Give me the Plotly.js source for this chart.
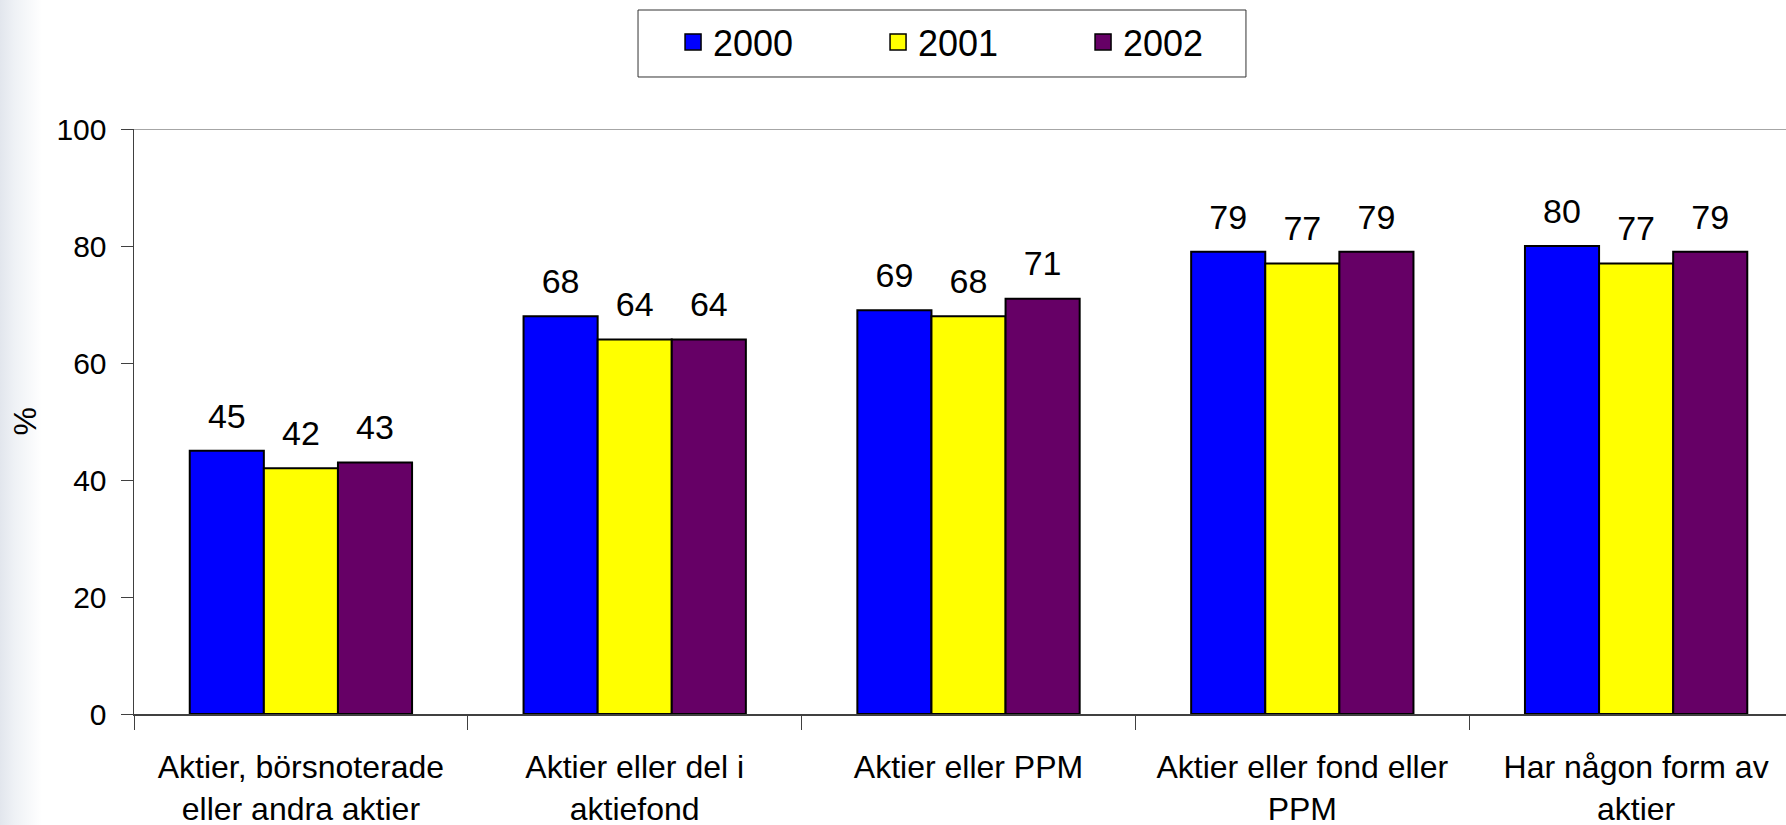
<!DOCTYPE html>
<html><head><meta charset="utf-8">
<script src="https://cdn.plot.ly/plotly-3.0.1.min.js"></script>
<style>
html,body{margin:0;padding:0;background:linear-gradient(to right,#e2e6ed 0px,#eef1f5 14px,#ffffff 42px);}
#chart{width:1786px;height:825px;}
</style>
</head><body><div id="chart"></div>
<script>
const categories = ["Aktier, börsnoterade<br>eller andra aktier", "Aktier eller del i<br>aktiefond", "Aktier eller PPM", "Aktier eller fond eller<br>PPM", "Har någon form av<br>aktier"];
const years = ["2000", "2001", "2002"];
const values2000 = [45, 68, 69, 79, 80];
const values2001 = [42, 64, 68, 77, 77];
const values2002 = [43, 64, 71, 79, 79];
const yTicks = [0, 20, 40, 60, 80, 100];
const yTitle = "%";

const colors = ["#0000FF", "#FFFF00", "#660066"];
const series = [values2000, values2001, values2002];
const font = "'Liberation Sans', Arial, sans-serif";

const traces = [];
series.forEach((vals, i) => {
  traces.push({
    type: 'bar', name: years[i], x: categories, y: vals,
    marker: {color: colors[i], line: {color: '#000000', width: 2}},
    showlegend: false, hoverinfo: 'skip'
  });
});
series.forEach((vals, i) => {
  traces.push({
    type: 'scatter', mode: 'markers+text', x: categories, y: vals,
    offsetgroup: 'g' + i, alignmentgroup: 'labels',
    text: vals.map(String), textposition: 'top center',
    textfont: {family: font, size: 34, color: '#000'},
    marker: {size: 22, color: 'rgba(0,0,0,0)'},
    showlegend: false, cliponaxis: false, hoverinfo: 'skip'
  });
});
// legend-only entries (no data points)
years.forEach((yr, i) => {
  traces.push({
    type: 'scatter', mode: 'markers', name: yr, x: [null], y: [null],
    offsetgroup: 'g' + i, alignmentgroup: 'labels',
    marker: {symbol: 'square', size: 16, color: colors[i], line: {color: '#000', width: 1.5}},
    showlegend: true, hoverinfo: 'skip'
  });
});

const layout = {
  width: 1786, height: 825,
  margin: {l: 134, r: 0, t: 129, b: 111},
  paper_bgcolor: 'rgba(0,0,0,0)', plot_bgcolor: 'rgba(0,0,0,0)',
  barmode: 'group', bargap: 0.334, bargroupgap: 0,
  scattermode: 'group', scattergap: 0.334,
  showlegend: true,
  legend: {
    orientation: 'h', x: 0.3263, xanchor: 'left', y: 1.2, yanchor: 'top',
    borderwidth: 0, bgcolor: 'rgba(0,0,0,0)',
    font: {family: font, size: 36, color: '#000'},
    entrywidth: 160, traceorder: 'normal', itemsizing: 'trace'
  },
  xaxis: {
    type: 'category', range: [-0.5, 4.449], tickson: 'boundaries',
    ticks: 'outside', ticklen: 14, tickcolor: '#404040', tickwidth: 1,
    showline: true, linecolor: '#404040', linewidth: 1.5,
    showgrid: false, zeroline: false,
    tickfont: {family: font, size: 32, color: '#000'},
    ticklabelstandoff: 24
  },
  yaxis: {
    range: [0, 100], tickvals: yTicks, ticktext: yTicks.map(String),
    ticks: 'outside', ticklen: 12, tickcolor: '#404040', tickwidth: 1,
    showline: true, linecolor: '#404040', linewidth: 1.5,
    showgrid: false, zeroline: false,
    tickfont: {family: font, size: 30, color: '#000'},
    ticklabelstandoff: 8
  },
  annotations: [{
    text: yTitle, textangle: -90, showarrow: false,
    xref: 'paper', yref: 'paper', x: -0.066, y: 0.5, xanchor: 'center', yanchor: 'middle',
    font: {family: font, size: 32, color: '#000'}
  }],
  shapes: [{
    type: 'line', xref: 'paper', x0: 0, x1: 1, yref: 'y', y0: 100, y1: 100,
    line: {color: '#888888', width: 1.5}
  }, {
    type: 'rect', xref: 'paper', yref: 'paper', x0: 0.3051, x1: 0.6731, y0: 1.0889, y1: 1.2034,
    line: {color: '#333333', width: 1}, fillcolor: '#ffffff', layer: 'below'
  }]
};

Plotly.newPlot('chart', traces, layout, {displayModeBar: false, staticPlot: true});
</script>
</body></html>
